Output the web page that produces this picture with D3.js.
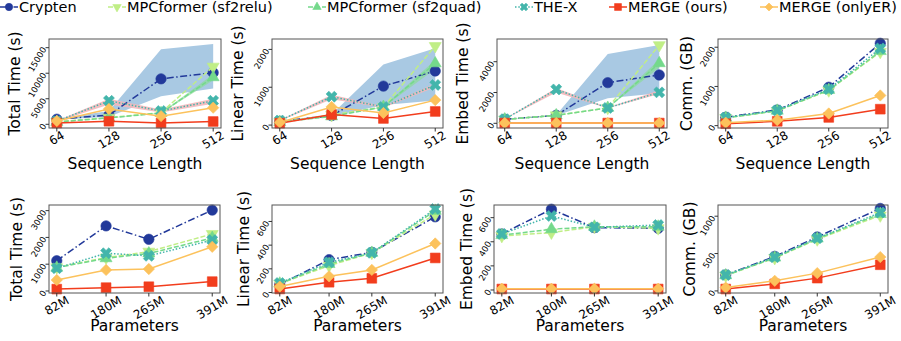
<!DOCTYPE html>
<html><head><meta charset="utf-8">
<script src="https://cdn.jsdelivr.net/npm/d3@7"></script>
<style>
body{margin:0;background:#fff}
svg{font-family:"DejaVu Sans",sans-serif;display:block}
</style></head><body>
<script>
var width = 901, height = 341

// data
var methods = ["Crypten", "MPCformer (sf2relu)", "MPCformer (sf2quad)", "THE-X", "MERGE (ours)", "MERGE (onlyER)"]
var seqLens = ["64", "128", "256", "512"]
var params = [82, 180, 265, 391]
var paramLabels = ["82M", "180M", "265M", "391M"]

// rows follow methods order
var seqTotalTime = [
  [1000, 1800, 8900, 10100],
  [500, 1300, 2300, 11300],
  [450, 1250, 2200, 9200],
  [600, 4600, 2600, 4600],
  [250, 600, 250, 550],
  [650, 3000, 1600, 3250]
]
var seqLinearTime = [
  [100, 250, 1030, 1430],
  [80, 270, 480, 2090],
  [80, 230, 480, 1630],
  [120, 750, 480, 1060],
  [50, 280, 175, 360],
  [70, 480, 320, 660]
]
var seqEmbedTime = [
  [260, 520, 2640, 3140],
  [250, 520, 1000, 5080],
  [250, 520, 1000, 3900],
  [270, 2200, 1000, 2010],
  [15, 15, 15, 15],
  [20, 20, 20, 20]
]
var seqComm = [
  [215, 400, 980, 2100],
  [195, 375, 900, 1880],
  [200, 380, 910, 1900],
  [205, 390, 930, 1970],
  [50, 110, 210, 420],
  [75, 140, 310, 770]
]
var paramTotalTime = [
  [1130, 2430, 1930, 3020],
  [885, 1245, 1470, 2130],
  [870, 1220, 1400, 1980],
  [850, 1410, 1310, 1900],
  [70, 125, 160, 350],
  [410, 785, 820, 1650]
]
var paramLinearTime = [
  [67, 277, 339, 639],
  [75, 227, 335, 660],
  [75, 240, 335, 690],
  [80, 255, 335, 705],
  [30, 87, 120, 292],
  [50, 137, 191, 414]
]
var paramEmbedTime = [
  [465, 670, 517, 512],
  [448, 476, 525, 512],
  [455, 504, 525, 525],
  [465, 614, 520, 539],
  [8, 8, 8, 8],
  [10, 10, 10, 10]
]
var paramComm = [
  [215, 462, 722, 1104],
  [205, 440, 690, 1010],
  [208, 445, 700, 1030],
  [212, 450, 705, 1050],
  [25, 94, 171, 350],
  [45, 135, 238, 453]
]

// shaded ranges (method index, lower, upper)
var seqTotalBands = [
  {m: 0, lo: [900, 1500, 5500, 7000], hi: [1100, 2600, 14700, 15700]},
  {m: 3, lo: [500, 3900, 2300, 4000], hi: [700, 5000, 2900, 5000]},
  {m: 2, lo: [440, 1200, 2150, 8600], hi: [460, 1300, 2250, 9800]}
]
var seqLinearBands = [
  {m: 0, lo: [90, 230, 530, 650], hi: [110, 280, 1600, 2030]},
  {m: 3, lo: [110, 680, 460, 1000], hi: [130, 800, 500, 1100]},
  {m: 2, lo: [78, 225, 470, 1480], hi: [82, 235, 490, 1720]}
]
var seqEmbedBands = [
  {m: 0, lo: [250, 500, 1620, 1950], hi: [270, 540, 4500, 5080]},
  {m: 3, lo: [260, 2000, 980, 1900], hi: [280, 2300, 1020, 2150]},
  {m: 2, lo: [245, 515, 990, 3600], hi: [255, 525, 1010, 4150]}
]

var ticksTotalSeq = [0, 5000, 10000, 15000]
var ticksLinearSeq = [0, 1000, 2000]
var ticksEmbedSeq = [0, 2000, 4000]
var ticksCommSeq = [0, 1000, 2000]
var ticksTotalParam = [0, 1000, 2000, 3000]
var ticksLinearParam = [0, 200, 400, 600]
var ticksEmbedParam = [0, 200, 400, 600]
var ticksCommParam = [0, 500, 1000]

// styles
var colors = ["#22399a", "#c0ee86", "#74d98b", "#43b5ab", "#f23d1d", "#fcc25c"]
var dashes = ["7,2.5,1.5,2.5", "5,2", "5,2", "1.5,1.8", null, null]
var symTypes = [d3.symbolCircle, d3.symbolTriangle, d3.symbolTriangle, d3.symbolCross, d3.symbolSquare, d3.symbolSquare]
var symSizes = [85, 62, 62, 75, 95, 64]
var symRotate = [0, 180, 0, 45, 0, 45]
var bandColors = {0: "#a9c9e3", 3: "#f3b7ba", 2: "#8bdc98"}
var bandOpacity = {0: 1, 3: 0.9, 2: 0.7}

var svg = d3.select("body").append("svg")
  .attr("width", width)
  .attr("height", height)

var panels = [
  {x0: 49, x1: 221, y0: 39, y1: 128, seq: true, vals: seqTotalTime, bands: seqTotalBands, dom: [-725, 16700], ticks: ticksTotalSeq, ylabel: "Total Time (s)", lx: 15},
  {x0: 272, x1: 443, y0: 39, y1: 128, seq: true, vals: seqLinearTime, bands: seqLinearBands, dom: [-77, 2275], ticks: ticksLinearSeq, ylabel: "Linear Time (s)", lx: 238},
  {x0: 497, x1: 667, y0: 39, y1: 128, seq: true, vals: seqEmbedTime, bands: seqEmbedBands, dom: [-305, 5475], ticks: ticksEmbedSeq, ylabel: "Embed Time (s)", lx: 463},
  {x0: 718, x1: 888, y0: 39, y1: 128, seq: true, vals: seqComm, bands: [], dom: [-60, 2210], ticks: ticksCommSeq, ylabel: "Comm. (GB)", lx: 687},
  {x0: 49, x1: 220, y0: 205, y1: 293, seq: false, vals: paramTotalTime, bands: [], dom: [-75, 3210], ticks: ticksTotalParam, ylabel: "Total Time (s)", lx: 17},
  {x0: 272, x1: 443, y0: 205, y1: 293, seq: false, vals: paramLinearTime, bands: [], dom: [-4, 739], ticks: ticksLinearParam, ylabel: "Linear Time (s)", lx: 244},
  {x0: 494, x1: 666, y0: 205, y1: 293, seq: false, vals: paramEmbedTime, bands: [], dom: [-25, 705], ticks: ticksEmbedParam, ylabel: "Embed Time (s)", lx: 467},
  {x0: 718, x1: 888, y0: 205, y1: 293, seq: false, vals: paramComm, bands: [], dom: [-28, 1150], ticks: ticksCommParam, ylabel: "Comm. (GB)", lx: 690}
]

function drawMarker(sel, i, scale) {
  sel.append("path")
    .attr("d", d3.symbol().type(symTypes[i]).size(symSizes[i] * scale)())
    .attr("fill", colors[i])
    .attr("stroke", colors[i])
    .attr("stroke-width", 0.6)
}

panels.forEach(function(p) {
  var g = svg.append("g")
  var x
  var xs
  if (p.seq) {
    x = d3.scalePoint().domain(seqLens).range([p.x0, p.x1]).padding(0.15)
    xs = seqLens
  } else {
    var pad = (params[3] - params[0]) * 0.05
    x = d3.scaleLinear().domain([params[0] - pad, params[3] + pad]).range([p.x0, p.x1])
    xs = params
  }
  var y = d3.scaleLinear().domain(p.dom).range([p.y1, p.y0])

  // bands
  p.bands.forEach(function(b) {
    var area = d3.area()
      .x(function(d, j) { return x(xs[j]) })
      .y0(function(d, j) { return y(b.lo[j]) })
      .y1(function(d, j) { return y(b.hi[j]) })
    g.append("path")
      .attr("d", area(xs))
      .attr("fill", bandColors[b.m])
      .attr("opacity", bandOpacity[b.m])
  })

  // series
  methods.forEach(function(m, i) {
    var pts = xs.map(function(v, j) { return [x(v), y(p.vals[i][j])] })
    g.append("path")
      .attr("d", d3.line()(pts))
      .attr("fill", "none")
      .attr("stroke", colors[i])
      .attr("stroke-width", 1.5)
      .attr("stroke-dasharray", dashes[i])
    pts.forEach(function(pt) {
      var mg = g.append("g").attr("transform", "translate(" + pt[0] + "," + pt[1] + ") rotate(" + symRotate[i] + ")")
      drawMarker(mg, i, 1)
    })
  })

  // frame
  g.append("rect")
    .attr("x", p.x0).attr("y", p.y0)
    .attr("width", p.x1 - p.x0).attr("height", p.y1 - p.y0)
    .attr("fill", "none").attr("stroke", "#555").attr("stroke-width", 1)

  // y ticks
  p.ticks.forEach(function(t) {
    var ty = y(t)
    g.append("line").attr("x1", p.x0).attr("x2", p.x0 - 3.5).attr("y1", ty).attr("y2", ty).attr("stroke", "#333")
    g.append("text")
      .attr("x", p.x0 - 5).attr("y", ty)
      .attr("text-anchor", "end")
      .attr("dominant-baseline", "central")
      .attr("font-size", 8.5)
      .attr("transform", "rotate(-60," + (p.x0 - 5) + "," + ty + ")")
      .text(d3.format("d")(t))
  })

  // x ticks
  xs.forEach(function(v, j) {
    var tx = x(v)
    g.append("line").attr("x1", tx).attr("x2", tx).attr("y1", p.y1).attr("y2", p.y1 + 3.5).attr("stroke", "#333")
    var lab = p.seq ? seqLens[j] : paramLabels[j]
    var t = g.append("text")
      .attr("text-anchor", "middle")
      .attr("dominant-baseline", "central")
      .attr("font-size", 12)
      .text(lab)
    var L = t.node().getComputedTextLength()
    var h = 12 * 0.73
    var H = L * 0.5 + h * 0.866
    var cy = p.y1 + 2.5 + H / 2
    t.attr("x", tx).attr("y", cy).attr("transform", "rotate(-30," + tx + "," + cy + ")")
  })

  // axis labels
  g.append("text")
    .attr("x", (p.x0 + p.x1) / 2)
    .attr("y", p.seq ? 168.5 : 331)
    .attr("text-anchor", "middle")
    .attr("font-size", 15.5)
    .text(p.seq ? "Sequence Length" : "Parameters")
  g.append("text")
    .attr("transform", "translate(" + p.lx + "," + ((p.y0 + p.y1) / 2) + ") rotate(-90)")
    .attr("text-anchor", "middle")
    .attr("dominant-baseline", "central")
    .attr("font-size", 15.5)
    .text(p.ylabel)
})

// legend
var legendX = [0, 108, 308, 515, 609, 760]
var legend = svg.append("g")
methods.forEach(function(m, i) {
  var lx = legendX[i]
  legend.append("line")
    .attr("x1", lx).attr("x2", lx + 18).attr("y1", 7).attr("y2", 7)
    .attr("stroke", colors[i]).attr("stroke-width", 1.5)
    .attr("stroke-dasharray", dashes[i])
  var mg = legend.append("g").attr("transform", "translate(" + (lx + 9) + ",7) rotate(" + symRotate[i] + ")")
  drawMarker(mg, i, 0.5)
  legend.append("text")
    .attr("x", lx + 19).attr("y", 12)
    .attr("font-size", 14.5)
    .text(m)
})
</script>
</body></html>
